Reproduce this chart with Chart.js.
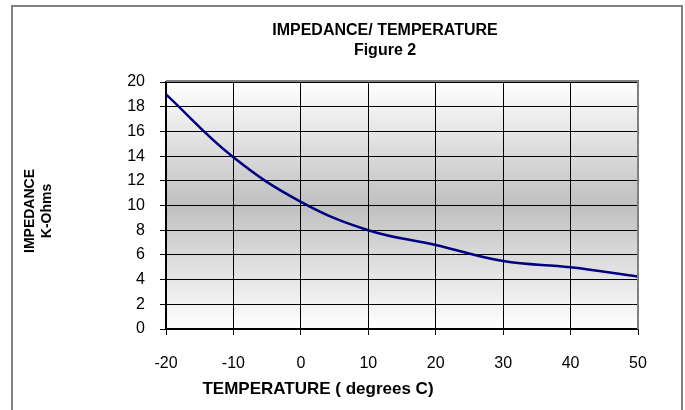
<!DOCTYPE html>
<html>
<head>
<meta charset="utf-8">
<script src="https://cdn.jsdelivr.net/npm/chart.js@4/dist/chart.umd.min.js"></script>
<style>
  html, body { margin: 0; padding: 0; background: #fff; }
  #wrap { width: 685px; height: 410px; }
</style>
</head>
<body>
<div id="wrap"><canvas id="canvas" width="685" height="410"></canvas></div>
<script>
// data
var temperature = [-20, -10, 0, 10, 20, 30, 40, 50];
var impedance = [19, 13.9, 10.3, 8.0, 6.8, 5.5, 5.0, 4.25];
var yTicks = [0, 20, 2];   // min, max, step
var xTicks = [-20, 50, 10];

var FONT = "'Liberation Sans', Arial, sans-serif";

// gradient background + gray frame + texts
var decor = {
   id: 'decor',
   beforeDraw: function (chart) {
      var c = chart.ctx, a = chart.chartArea;
      c.save();
      c.fillStyle = '#fff';
      c.fillRect(0, 0, chart.width, chart.height);
      var g = c.createLinearGradient(0, a.top, 0, a.bottom);
      g.addColorStop(0, '#ffffff');
      g.addColorStop(0.5, '#c0c0c0');
      g.addColorStop(1, '#ffffff');
      c.fillStyle = g;
      c.fillRect(a.left, a.top, a.right - a.left, a.bottom - a.top);
      c.restore();
   },
   afterDraw: function (chart) {
      var c = chart.ctx, a = chart.chartArea;
      c.save();
      // plot area top / right border
      c.strokeStyle = '#808080';
      c.lineWidth = 2;
      c.beginPath();
      c.moveTo(a.left, a.top - 1);
      c.lineTo(a.right, a.top - 1);
      c.lineTo(a.right, a.bottom);
      c.stroke();
      // outer frame
      c.beginPath();
      c.moveTo(12, 420);
      c.lineTo(12, 6);
      c.lineTo(682, 6);
      c.lineTo(682, 420);
      c.stroke();

      c.fillStyle = '#000';
      c.textAlign = 'center';
      c.textBaseline = 'middle';
      c.font = 'bold 16px ' + FONT;
      c.fillText('IMPEDANCE/ TEMPERATURE', 385, 31);
      c.fillText('Figure 2', 385, 51);

      c.font = 'bold 17px ' + FONT;
      c.fillText('TEMPERATURE ( degrees C)', 318, 389);

      c.font = 'bold 14px ' + FONT;
      c.translate(38, 211);
      c.rotate(-Math.PI / 2);
      c.fillText('IMPEDANCE', 0, -8);
      c.fillText('K-Ohms', 0, 9);
      c.restore();
   }
};

window.onload = function () {
   var ctx = document.getElementById('canvas').getContext('2d');
   window.myLine = new Chart(ctx, {
      type: 'line',
      data: {
         labels: temperature,
         datasets: [{
            label: 'Impedance',
            data: temperature.map(function (t, i) { return { x: t, y: impedance[i] }; }),
            borderColor: '#000080',
            borderWidth: 2.5,
            pointRadius: 0,
            tension: 0.4,
            fill: false
         }]
      },
      options: {
         responsive: false,
         animation: false,
         layout: { padding: { top: 82, right: 47, left: 0, bottom: 0 } },
         plugins: {
            legend: { display: false },
            title: { display: false },
            tooltip: { enabled: false }
         },
         scales: {
            x: {
               type: 'linear',
               min: xTicks[0],
               max: xTicks[1],
               afterFit: function (s) { s.height = 81; },
               ticks: {
                  stepSize: xTicks[2],
                  color: '#000',
                  padding: 19,
                  font: { family: FONT, size: 16 }
               },
               grid: { color: '#000', lineWidth: 1, tickLength: 6 },
               border: { color: '#000', width: 1.5 }
            },
            y: {
               min: yTicks[0],
               max: yTicks[1],
               afterFit: function (s) { s.width = 166; },
               ticks: {
                  stepSize: yTicks[2],
                  color: '#000',
                  padding: 15,
                  font: { family: FONT, size: 16 }
               },
               grid: { color: '#000', lineWidth: 1, tickLength: 6 },
               border: { color: '#000', width: 1.5 }
            }
         }
      },
      plugins: [decor]
   });
};
</script>
</body>
</html>
